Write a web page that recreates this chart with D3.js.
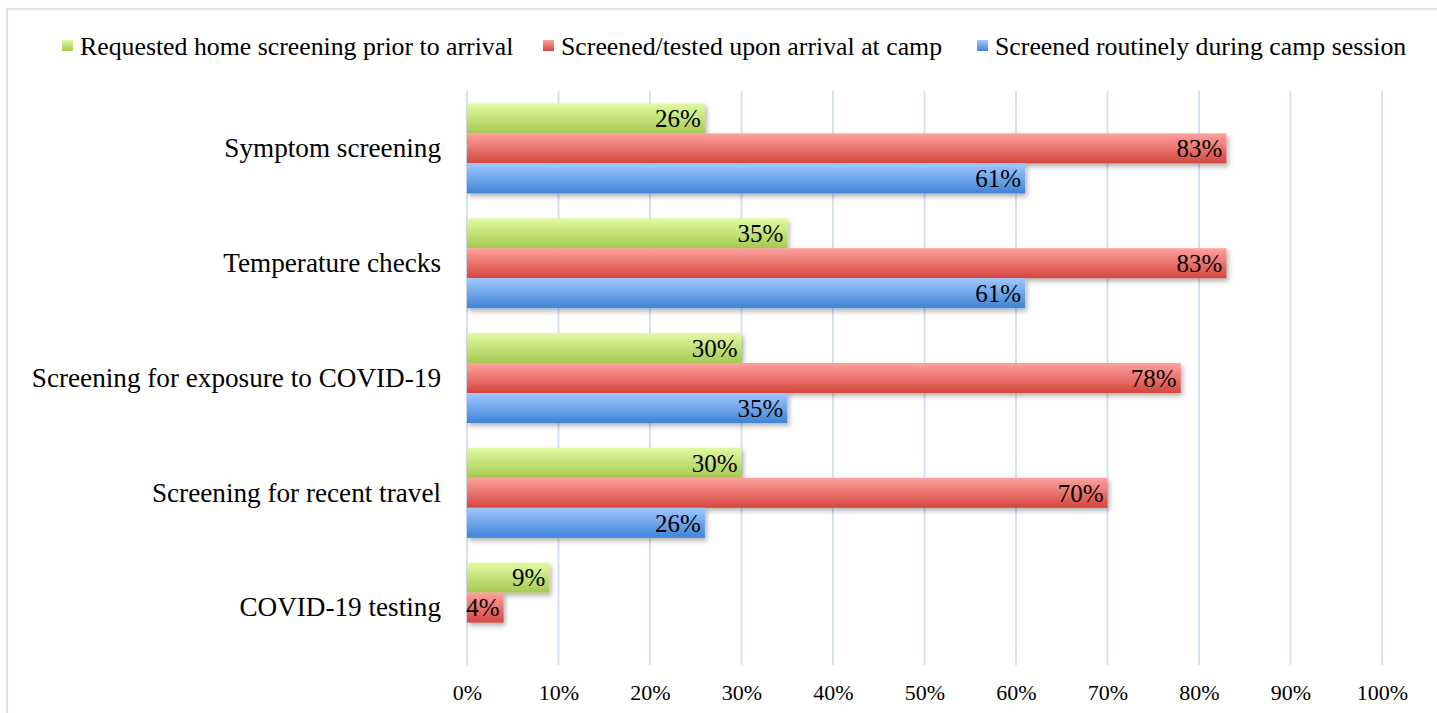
<!DOCTYPE html>
<html>
<head>
<meta charset="utf-8">
<script src="https://cdn.jsdelivr.net/npm/d3@7"></script>
<style>
  body { margin: 0; background: #fff; }
  text { font-family: "Liberation Serif", "Times New Roman", serif; fill: #000; }
</style>
</head>
<body>
<div id="chart"></div>
<script>
const categories = ["Symptom screening", "Temperature checks", "Screening for exposure to COVID-19", "Screening for recent travel", "COVID-19 testing"];
const seriesNames = ["Requested home screening prior to arrival", "Screened/tested upon arrival at camp", "Screened routinely during camp session"];
const homeValues = [26, 35, 30, 30, 9];
const arrivalValues = [83, 83, 78, 70, 4];
const routineValues = [61, 61, 35, 26, null];
const tickLabels = ["0%", "10%", "20%", "30%", "40%", "50%", "60%", "70%", "80%", "90%", "100%"];

const W = 1437, H = 713,
    plot = {left: 467, right: 1382, top: 91, bottom: 665},
    gradStops = [["#e0fba2", "#a6c951"], ["#ffa29d", "#d4463f"], ["#a0c7ff", "#3f84d6"]];

const allValues = [homeValues, arrivalValues, routineValues];

const svg = d3.select("#chart").append("svg")
    .attr("width", W)
    .attr("height", H);

const defs = svg.append("defs");
gradStops.forEach((s, i) => {
    const g = defs.append("linearGradient")
        .attr("id", "grad" + i)
        .attr("x1", 0).attr("y1", 0).attr("x2", 0).attr("y2", 1);
    g.append("stop").attr("offset", "0%").attr("stop-color", s[0]);
    g.append("stop").attr("offset", "100%").attr("stop-color", s[1]);
});
const shadow = defs.append("filter").attr("id", "shadow")
    .attr("x", "-5%").attr("y", "-20%").attr("width", "115%").attr("height", "160%");
shadow.append("feDropShadow")
    .attr("dx", 2).attr("dy", 3).attr("stdDeviation", 2.5)
    .attr("flood-color", "#000").attr("flood-opacity", 0.3);

// cadre du graphique
svg.append("rect")
    .attr("x", 7).attr("y", 9)
    .attr("width", W).attr("height", H)
    .attr("fill", "none")
    .attr("stroke", "#d8e3f1")
    .attr("stroke-width", 2);

const x = d3.scaleLinear()
    .domain([0, 100])
    .range([plot.left, plot.right]);

const y = d3.scaleBand()
    .domain(categories)
    .range([plot.top, plot.bottom]);

const ySub = d3.scaleBand()
    .domain(seriesNames)
    .range([0, y.bandwidth()])
    .paddingInner(0)
    .paddingOuter(0.413);

// grille verticale
svg.append("g")
    .selectAll("line")
    .data(d3.range(0, 101, 10))
    .enter().append("line")
    .attr("x1", d => x(d)).attr("x2", d => x(d))
    .attr("y1", plot.top).attr("y2", plot.bottom)
    .attr("stroke", "#d5e1f1")
    .attr("stroke-width", 2);

// axe horizontal
const xAxis = d3.axisBottom(x)
    .tickValues(d3.range(0, 101, 10))
    .tickFormat((d, i) => tickLabels[i])
    .tickSize(0)
    .tickPadding(0);

svg.append("g")
    .attr("transform", "translate(0," + 700 + ")")
    .call(xAxis)
    .call(g => g.select(".domain").remove())
    .selectAll("text")
    .attr("y", 0)
    .attr("dy", 0)
    .style("font-family", "'Liberation Serif', serif")
    .style("font-size", "22px")
    .style("fill", "#000");

// axe vertical (libellés)
const yAxis = d3.axisLeft(y).tickSize(0).tickPadding(26);
svg.append("g")
    .attr("transform", "translate(" + plot.left + ",0)")
    .call(yAxis)
    .call(g => g.select(".domain").remove())
    .selectAll("text")
    .style("font-family", "'Liberation Serif', serif")
    .style("font-size", "27.2px")
    .style("fill", "#000");

// barres
const groups = svg.selectAll("g.cat")
    .data(categories)
    .enter().append("g")
    .attr("class", "cat")
    .attr("transform", d => "translate(0," + y(d) + ")");

groups.each(function(cat, ci) {
    const g = d3.select(this);
    seriesNames.forEach((s, si) => {
        const v = allValues[si][ci];
        if (v === null) return;
        g.append("rect")
            .attr("x", x(0))
            .attr("y", ySub(s))
            .attr("width", x(v) - x(0))
            .attr("height", ySub.bandwidth())
            .attr("fill", "url(#grad" + si + ")")
            .attr("filter", "url(#shadow)");
    });
    seriesNames.forEach((s, si) => {
        const v = allValues[si][ci];
        if (v === null) return;
        g.append("text")
            .attr("x", x(v) - 4)
            .attr("y", ySub(s) + ySub.bandwidth() / 2)
            .attr("dy", "0.35em")
            .attr("text-anchor", "end")
            .style("font-size", "25px")
            .text(v + "%");
    });
});

// légende
const legendX = [62, 543, 977];
const legend = svg.append("g");
seriesNames.forEach((s, i) => {
    legend.append("rect")
        .attr("x", legendX[i]).attr("y", 40)
        .attr("width", 11).attr("height", 11)
        .attr("fill", "url(#grad" + i + ")");
    legend.append("text")
        .attr("x", legendX[i] + 18)
        .attr("y", 46)
        .attr("dy", "0.35em")
        .style("font-size", "25.8px")
        .text(s);
});
</script>
</body>
</html>
